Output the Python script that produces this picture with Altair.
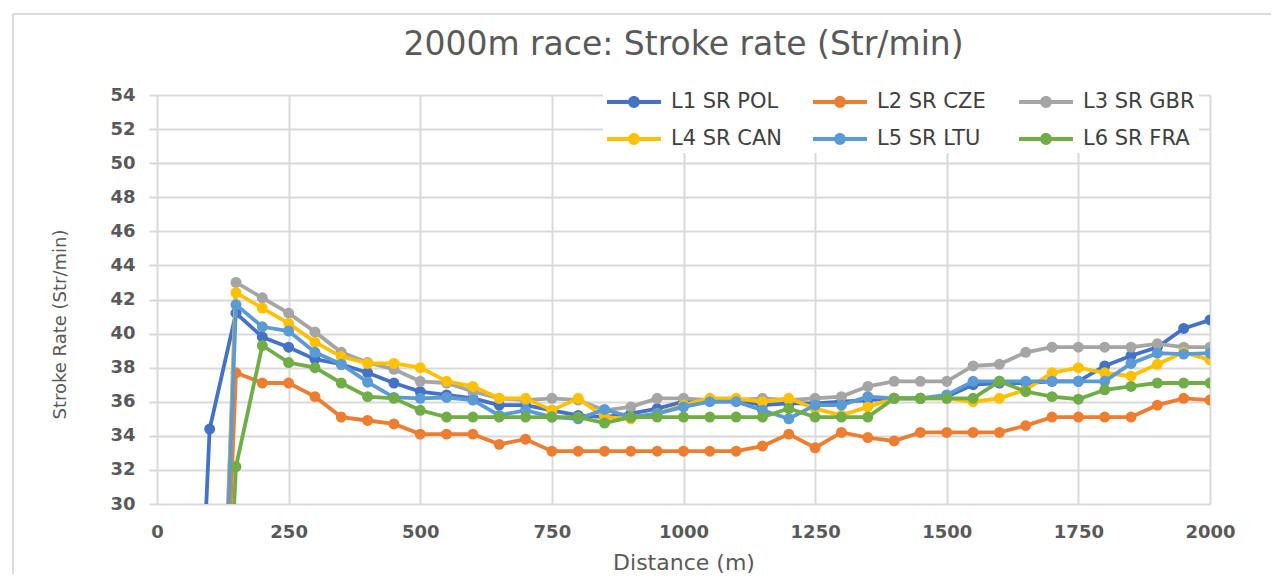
import altair as alt
import pandas as pd

names = ["L1 SR POL", "L2 SR CZE", "L3 SR GBR", "L4 SR CAN", "L5 SR LTU", "L6 SR FRA"]
colors = ["#4472C4", "#ED7D31", "#A5A5A5", "#FFC000", "#5B9BD5", "#70AD47"]

dist_pol = list(range(50, 2001, 50))
dist_rest = list(range(100, 2001, 50))

pol = [0, 34.4, 41.2, 39.8, 39.2, 38.5, 38.2, 37.7, 37.1, 36.6, 36.4, 36.2, 35.8, 35.8, 35.5, 35.2,
       35.1, 35.3, 35.6, 36.0, 36.1, 36.1, 35.8, 35.9, 35.9, 36.0, 36.1, 36.2, 36.2, 36.3, 37.0,
       37.1, 37.1, 37.2, 37.2, 38.1, 38.7, 39.2, 40.3, 40.8]
cze = [0, 37.7, 37.1, 37.1, 36.3, 35.1, 34.9, 34.7, 34.1, 34.1, 34.1, 33.5, 33.8, 33.1, 33.1, 33.1,
       33.1, 33.1, 33.1, 33.1, 33.1, 33.4, 34.1, 33.3, 34.2, 33.9, 33.7, 34.2, 34.2, 34.2, 34.2,
       34.6, 35.1, 35.1, 35.1, 35.1, 35.8, 36.2, 36.1]
gbr = [0, 43.0, 42.1, 41.2, 40.1, 38.9, 38.3, 37.9, 37.2, 37.1, 36.6, 36.2, 36.1, 36.2, 36.1, 35.5,
       35.7, 36.2, 36.2, 36.1, 36.1, 36.2, 36.1, 36.2, 36.3, 36.9, 37.2, 37.2, 37.2, 38.1, 38.2,
       38.9, 39.2, 39.2, 39.2, 39.2, 39.4, 39.2, 39.2]
can = [0, 42.4, 41.5, 40.6, 39.5, 38.65, 38.25, 38.25, 38.0, 37.2, 36.9, 36.2, 36.2, 35.5, 36.2, 35.1,
       35.0, 35.3, 35.8, 36.2, 36.2, 36.0, 36.2, 35.6, 35.2, 35.7, 36.2, 36.2, 36.2, 36.0, 36.2,
       36.7, 37.7, 38.0, 37.7, 37.5, 38.2, 38.9, 38.45]
ltu = [0, 41.7, 40.4, 40.15, 38.9, 38.2, 37.15, 36.25, 36.2, 36.25, 36.1, 35.2, 35.5, 35.1, 35.0, 35.55,
       35.1, 35.3, 35.7, 36.0, 36.0, 35.5, 35.0, 35.8, 35.8, 36.3, 36.2, 36.2, 36.4, 37.2, 37.2,
       37.2, 37.2, 37.2, 37.2, 38.25, 38.85, 38.8, 38.85]
fra = [0, 32.2, 39.3, 38.3, 38.0, 37.1, 36.3, 36.2, 35.5, 35.1, 35.1, 35.1, 35.1, 35.1, 35.1, 34.75,
       35.1, 35.1, 35.1, 35.1, 35.1, 35.1, 35.6, 35.1, 35.1, 35.1, 36.2, 36.2, 36.2, 36.2, 37.2,
       36.6, 36.3, 36.15, 36.7, 36.9, 37.1, 37.1, 37.1]

x_ticks = [0, 250, 500, 750, 1000, 1250, 1500, 1750, 2000]
y_ticks = list(range(30, 55, 2))

series = [
    (names[0], dist_pol, pol),
    (names[1], dist_rest, cze),
    (names[2], dist_rest, gbr),
    (names[3], dist_rest, can),
    (names[4], dist_rest, ltu),
    (names[5], dist_rest, fra),
]
rows = []
for name, ds, vs in series:
    for d, v in zip(ds, vs):
        rows.append({"Distance": d, "Rate": v, "Series": name})
df = pd.DataFrame(rows)

FONT = "DejaVu Sans"
TXT = "#595959"

legend_symbol = ("M-1,-0.075 L1,-0.075 L1,0.075 L-1,0.075 Z "
                 "M0.22,0 A0.22,0.22 0 1,1 -0.22,0 A0.22,0.22 0 1,1 0.22,0 Z")

color = alt.Color(
    "Series:N",
    scale=alt.Scale(domain=names, range=colors),
    sort=names,
    legend=alt.Legend(
        title=None, orient="none", legendX=446, legendY=-24, columns=3,
        direction="horizontal", gridAlign="all",
        symbolType=legend_symbol, symbolSize=2916, symbolStrokeWidth=0,
        symbolOpacity=1,
        labelFont=FONT, labelFontSize=21, labelColor="#404040", labelOffset=10,
        labelLimit=220, rowPadding=-20, columnPadding=30,
        fillColor="white", padding=4,
    ),
)
x = alt.X("Distance:Q", scale=alt.Scale(domain=[0, 2000], nice=False),
          axis=alt.Axis(values=x_ticks, title="Distance (m)", grid=True, ticks=False,
                        domain=False, labelPadding=19, titlePadding=11,
                        labelFlush=False, format="d", titleFontSize=22))
y = alt.Y("Rate:Q", scale=alt.Scale(domain=[30, 54], nice=False, zero=False),
          axis=alt.Axis(values=y_ticks, title="Stroke Rate (Str/min)", grid=True, ticks=True,
                        tickSize=8, domain=False, labelPadding=14, titlePadding=40, titleY=229,
                        titleFontSize=18))

layers = []
for name in names:
    base = alt.Chart(df).transform_filter(alt.datum.Series == name)
    layers.append(base.mark_line(strokeWidth=3.8, clip=True).encode(x=x, y=y, color=color))
    layers.append(base.mark_circle(size=120, opacity=1, clip=True).encode(x=x, y=y, color=color))

frame = alt.Chart(pd.DataFrame({"k": [0]})).mark_rule(color="#cfcfcf", strokeWidth=1.5).encode(
    x=alt.value(-144), x2=alt.value(1114), y=alt.value(-81))
frame_left = alt.Chart(pd.DataFrame({"k": [0]})).mark_rule(color="#cfcfcf", strokeWidth=1.5).encode(
    x=alt.value(-144), y=alt.value(-81), y2=alt.value(480))

chart = alt.layer(frame, frame_left, *layers).properties(
    width=1053, height=409,
    title=alt.Title("2000m race: Stroke rate (Str/min)", font=FONT, fontSize=33,
                    fontWeight="normal", color=TXT, offset=0, dy=82, baseline="bottom",
                    anchor="middle", frame="group"),
    autosize=alt.AutoSizeParams(type="none"),
    padding={"left": 149, "top": 87, "right": 61, "bottom": 70},
    background="white",
).configure_view(stroke=None).configure_axis(
    gridColor="#d9d9d9", gridWidth=2, tickColor="#d9d9d9", tickWidth=2,
    labelFont=FONT, labelFontSize=18, labelFontWeight="bold", labelColor=TXT,
    titleFont=FONT, titleFontWeight="normal", titleColor=TXT,
)

chart.save("out.html", embed_options={"renderer": "svg", "actions": False})
